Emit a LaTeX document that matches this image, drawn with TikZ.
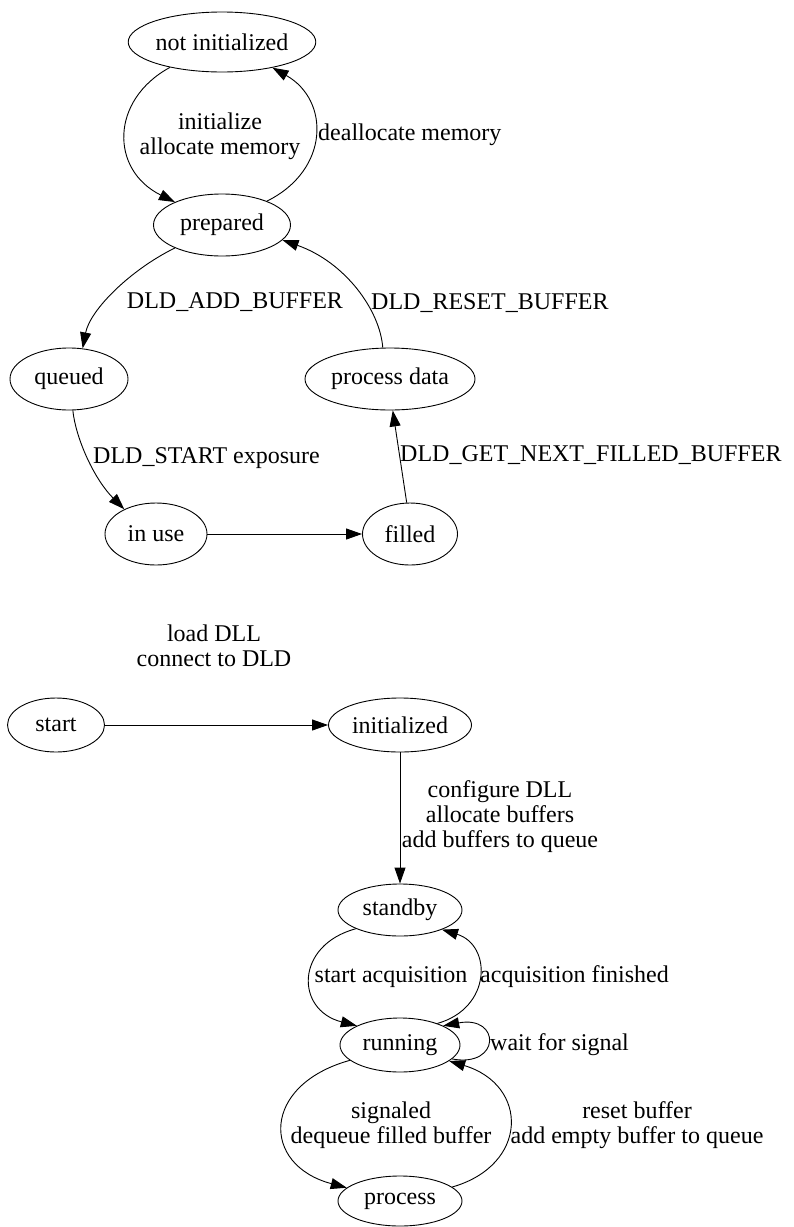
\documentclass[tikz,border=0pt]{standalone}
\usepackage{fontspec}
\setmainfont{Liberation Serif}
\usetikzlibrary{shapes.geometric,arrows.meta}
\begin{document}
\begin{tikzpicture}[x=1pt,y=-1pt,
  st/.style={draw, ellipse, line width=0.9pt, inner sep=0pt, font=\fontsize{24}{25}\selectfont},
  lbl/.style={inner sep=0pt, align=center, font=\fontsize{24}{25}\selectfont},
  edge/.style={draw, line width=0.9pt, -{Triangle[length=16pt,width=11pt]}}]
\useasboundingbox (0,0) rectangle (793,1227);
% states, upper graph
\node[st, minimum width=180pt, minimum height=60pt] (ni) at (222,42) {not initialized};
\node[st, minimum width=137pt, minimum height=62pt] (prep) at (222,225) {prepared};
\node[st, minimum width=118pt, minimum height=62pt] (q) at (69,379) {queued};
\node[st, minimum width=170pt, minimum height=62pt] (pd) at (390,379) {process data};
\node[st, minimum width=102pt, minimum height=62pt] (iu) at (156,534) {in use};
\node[st, minimum width=95pt, minimum height=62pt] (fi) at (410,534) {filled};
% states, lower graph
\node[st, minimum width=97pt, minimum height=54pt] (sta) at (56,725) {start};
\node[st, minimum width=143pt, minimum height=54pt] (ini) at (400,725) {initialized};
\node[st, minimum width=124pt, minimum height=52pt] (sb) at (400,910) {standby};
\node[st, minimum width=120pt, minimum height=54pt] (run) at (400,1045) {running};
\node[st, minimum width=124pt, minimum height=50pt] (proc) at (400,1201) {process};
% labels
\node[lbl] (l1) at (220,136) {initialize\\allocate memory};
\node[lbl, anchor=west] (l2) at (318,135) {deallocate memory};
\node[lbl] (l3) at (235,302) {DLD\_ADD\_BUFFER};
\node[lbl, anchor=west] (l4) at (371,303) {DLD\_RESET\_BUFFER};
\node[lbl, anchor=west] (l5) at (93,458) {DLD\_START exposure};
\node[lbl, anchor=west] (l6) at (400,455) {DLD\_GET\_NEXT\_FILLED\_BUFFER};
\node[lbl] (l7) at (214,646) {load DLL\\connect to DLD};
\node[lbl] (l8) at (500,817) {configure DLL\\allocate buffers\\add buffers to queue};
\node[lbl] (l9) at (391,977) {start acquisition};
\node[lbl, anchor=west] (l10) at (480,977) {acquisition finished};
\node[lbl, anchor=west] (l11) at (490,1045) {wait for signal};
\node[lbl] (l12) at (391,1125) {signaled\\dequeue filled buffer};
\node[lbl] (l13) at (637,1125) {reset buffer\\add empty buffer to queue};
% edges, upper graph
\draw[edge] (ni.206) .. controls (110,100) and (110,170) .. (prep.154);
\draw[edge] (prep.28) .. controls (330,170) and (330,100) .. (ni.333);
\draw[edge] (prep.206) .. controls (130,270) and (90,310) .. (q.66);
\draw[edge] (pd.103) .. controls (380,310) and (345,262) .. (prep.346);
\draw[edge] (q.277) .. controls (76,440) and (95,480) .. (iu.142);
\draw[edge] (iu) -- (fi);
\draw[edge] (fi.96) -- (pd.275);
% edges, lower graph
\draw[edge] (sta) -- (ini);
\draw[edge] (ini) -- (sb);
\draw[edge] (sb.203) .. controls (295,945) and (295,1010) .. (run.156);
\draw[edge] (run.30) .. controls (492,1008) and (492,945) .. (sb.335);
\draw[edge] (run.345) .. controls (501,1068) and (501,1015) .. (run.24);
\draw[edge] (run.197) .. controls (261,1085) and (261,1165) .. (proc.166);
\draw[edge] (proc.15) .. controls (529,1165) and (529,1085) .. (run.342);
\end{tikzpicture}
\end{document}
